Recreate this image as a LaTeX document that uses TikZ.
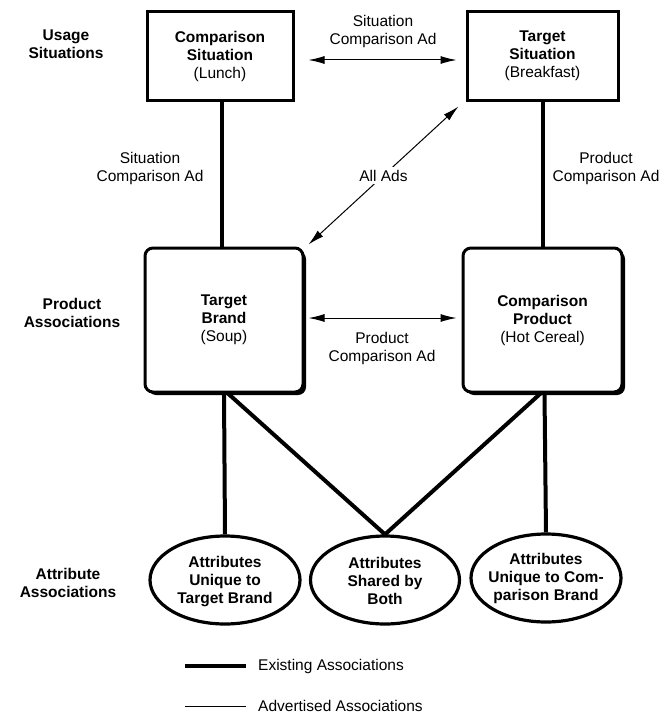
\documentclass[tikz,border=0pt]{standalone}
\usepackage{fontspec}
\setmainfont{Liberation Sans}
\usetikzlibrary{arrows.meta,shadows,shapes.geometric}
\newcommand\dfont{\fontsize{15.5}{18}\selectfont}
\begin{document}
\begin{tikzpicture}[x=1pt,y=-1pt,
  font=\dfont,
  every node/.style={align=center, inner sep=0pt},
  sitbox/.style={draw, line width=3pt, minimum width=#1, minimum height=88pt, fill=white,
    drop shadow={shadow xshift=2pt, shadow yshift=-2pt, fill=black, opacity=1}},
  prodbox/.style={draw, line width=3pt, rounded corners=8pt, minimum width=#1, minimum height=144pt, fill=white,
    drop shadow={shadow xshift=3pt, shadow yshift=-3pt, fill=black, opacity=1}},
  attr/.style={draw, ellipse, line width=3.2pt, minimum width=#1, minimum height=88pt, fill=white},
  rowlabel/.style={font=\dfont\bfseries},
  exist/.style={line width=4pt},
  adv/.style={line width=1pt, {Latex[length=16pt,width=8pt]}-{Latex[length=16pt,width=8pt]}},
  advline/.style={line width=1pt}
]
\useasboundingbox (0,0) rectangle (662,717);

% row labels
\node[rowlabel] (rl1) at (66,44) {Usage\\Situations};
\node[rowlabel] (rl2) at (72,313) {Product\\Associations};
\node[rowlabel] (rl3) at (68,583) {Attribute\\Associations};

% situation boxes
\node[sitbox=146pt] (cs) at (220,56) {{\bfseries Comparison}\\{\bfseries Situation}\\(Lunch)};
\node[sitbox=151pt] (ts) at (542.5,56) {{\bfseries Target}\\{\bfseries Situation}\\(Breakfast)};

% product boxes
\node[prodbox=158pt] (tb) at (224,320) {{\bfseries Target}\\{\bfseries Brand}\\(Soup)};
\node[prodbox=159pt] (cp) at (542.5,320) {{\bfseries Comparison}\\{\bfseries Product}\\(Hot Cereal)};

% attribute ellipses
\node[attr=150pt, label={[font=\dfont\bfseries, align=center, yshift=-2pt]center:Attributes\\Unique to\\Target Brand}] (e1) at (225,580) {};
\node[attr=149pt, label={[font=\dfont\bfseries, align=center, yshift=-1pt]center:Attributes\\Shared by\\Both}] (e2) at (385,580) {};
\node[attr=150pt, label={[font=\dfont\bfseries, align=center]center:Attributes\\Unique to Com-\\parison Brand}] (e3) at (546,578) {};

% existing associations
\draw[exist] ([xshift=2pt]cs.south) -- ([xshift=-2pt]tb.north);
\draw[exist] (ts.south) -- (cp.north);
\draw[exist] (tb.south) -- (e1.north);
\draw[exist] ([xshift=4pt]tb.south) -- (e2.north);
\draw[exist] ([xshift=-2pt]cp.south) -- (e2.north);
\draw[exist] ([xshift=2pt]cp.south) -- (e3.north);

% advertised associations
\draw[adv] ([xshift=14pt,yshift=-4pt]cs.east) -- ([xshift=-9pt,yshift=-4pt]ts.west);
\draw[adv] ([xshift=4pt,yshift=2pt]tb.east) -- ([xshift=-5pt,yshift=2pt]cp.west);
\draw[adv] ([xshift=4pt,yshift=2pt]tb.north east) -- node[fill=white, inner sep=3pt] (allads) {All Ads} ([xshift=-7pt,yshift=-5pt]ts.south west);

% ad labels
\node (l1) at (383,31) {Situation\\Comparison Ad};
\node (l2) at (150,168) {Situation\\Comparison Ad};
\node (l3) at (606,168) {Product\\Comparison Ad};
\node (l4) at (382,348) {Product\\Comparison Ad};

% legend
\coordinate (lg1a) at (185,666);
\coordinate (lg1b) at (246,666);
\coordinate (lg2a) at (185,706);
\coordinate (lg2b) at (246,706);
\draw[exist] (lg1a) -- (lg1b);
\draw[advline] (lg2a) -- (lg2b);
\node[anchor=west] (lt1) at (258,666) {Existing Associations};
\node[anchor=west] (lt2) at (258,706) {Advertised Associations};
\end{tikzpicture}
\end{document}
